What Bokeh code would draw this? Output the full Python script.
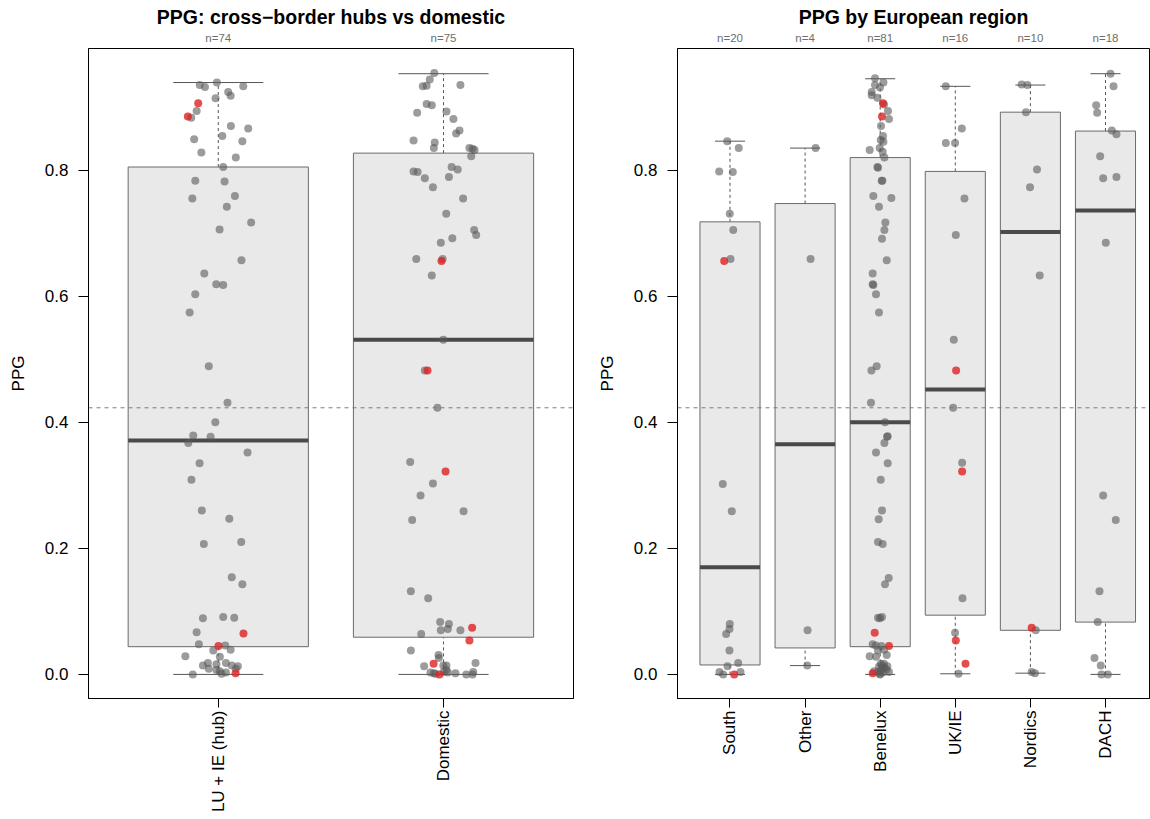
import math
from bokeh.plotting import figure
from bokeh.models import Range1d, FixedTicker, LinearAxis, Span, PrintfTickFormatter
from bokeh.layouts import row
from bokeh.embed import file_html
from bokeh.resources import INLINE

FONT = "Liberation Sans"

# ---------------- data: left panel ----------------
left_title = "PPG: cross\u2212border hubs vs domestic"
left_cats = ["LU + IE (hub)", "Domestic"]
left_n = [74, 75]
left_lower = [0.000, 0.000]
left_q1 = [0.044, 0.059]
left_median = [0.371, 0.531]
left_q3 = [0.805, 0.827]
left_upper = [0.939, 0.953]

hub_ppg = [0.935, 0.932, 0.939, 0.933, 0.924, 0.918, 0.914, 0.906, 0.894, 0.885,
           0.883, 0.870, 0.866, 0.854, 0.849, 0.846, 0.828, 0.820, 0.805, 0.783,
           0.782, 0.755, 0.759, 0.742, 0.717, 0.706, 0.657, 0.636, 0.619, 0.618,
           0.603, 0.574, 0.489, 0.431, 0.400, 0.379, 0.377, 0.367, 0.352, 0.335,
           0.309, 0.260, 0.247, 0.207, 0.210, 0.154, 0.143, 0.089, 0.091, 0.090,
           0.067, 0.065, 0.048, 0.045, 0.046, 0.038, 0.039, 0.029, 0.028, 0.014,
           0.018, 0.016, 0.018, 0.014, 0.013, 0.009, 0.005, 0.003, 0.002, 0.000,
           0.007, 0.009, 0.001]
hub_jitter = [-0.082, -0.059, -0.006, 0.111, 0.044, 0.055, -0.012, -0.089, -0.096, -0.135,
              -0.120, 0.056, 0.133, 0.018, -0.107, 0.107, -0.075, 0.078, 0.022, -0.102,
              0.028, -0.115, 0.074, 0.038, 0.146, 0.006, 0.103, -0.062, -0.009, 0.022,
              -0.102, -0.127, -0.042, 0.041, -0.013, -0.111, -0.034, -0.133, 0.130, -0.083,
              -0.119, -0.073, 0.049, -0.064, 0.102, 0.060, 0.107, -0.068, 0.022, 0.071,
              -0.096, 0.112, -0.086, 0.001, 0.031, -0.022, 0.055, -0.146, 0.007, -0.068,
              -0.046, -0.008, 0.034, 0.060, 0.087, -0.042, 0.007, 0.034, 0.077, -0.113,
              -0.008, 0.078, 0.015]
hub_red = [7, 9, 51, 53, 68]

dom_ppg = [0.954, 0.944, 0.933, 0.934, 0.935, 0.905, 0.903, 0.891, 0.893, 0.881,
           0.863, 0.858, 0.847, 0.844, 0.835, 0.835, 0.834, 0.832, 0.822, 0.798,
           0.797, 0.805, 0.801, 0.787, 0.789, 0.773, 0.755, 0.731, 0.705, 0.697,
           0.692, 0.685, 0.659, 0.656, 0.659, 0.633, 0.531, 0.482, 0.482, 0.423,
           0.337, 0.322, 0.303, 0.284, 0.259, 0.245, 0.132, 0.121, 0.083, 0.080,
           0.070, 0.072, 0.070, 0.074, 0.064, 0.054, 0.038, 0.031, 0.026, 0.017,
           0.013, 0.014, 0.014, 0.018, 0.002, 0.000, 0.003, 0.000, 0.004, 0.000,
           0.001, 0.004, 0.007, 0.002, 0.003]
dom_jitter = [-0.041, -0.061, -0.092, -0.075, 0.075, -0.075, -0.052, -0.117, 0.013, 0.044,
              0.071, 0.056, -0.133, -0.039, -0.043, 0.115, 0.129, 0.138, 0.123, -0.133,
              -0.115, 0.036, 0.063, -0.083, 0.024, -0.047, 0.087, 0.012, 0.136, 0.145,
              0.039, -0.012, -0.121, -0.009, -0.004, -0.052, -0.001, -0.071, -0.083, -0.027,
              -0.148, 0.009, -0.047, -0.102, 0.089, -0.139, -0.145, -0.068, -0.015, 0.024,
              -0.012, 0.019, 0.075, 0.127, -0.099, 0.115, -0.145, -0.022, -0.021, -0.044,
              -0.086, -0.001, 0.013, 0.142, -0.043, -0.018, 0.019, 0.101, 0.132, 0.129,
              -0.036, 0.001, 0.013, 0.053, -0.058]
dom_red = [33, 37, 41, 53, 55, 59, 65]

# ---------------- data: right panel ----------------
right_title = "PPG by European region"
right_cats = ["South", "Other", "Benelux", "UK/IE", "Nordics", "DACH"]
right_n = [20, 4, 81, 16, 10, 18]
right_lower = [0.000, 0.014, 0.000, 0.001, 0.002, 0.000]
right_q1 = [0.015, 0.042, 0.044, 0.094, 0.070, 0.083]
right_median = [0.170, 0.365, 0.400, 0.452, 0.702, 0.736]
right_q3 = [0.718, 0.747, 0.820, 0.798, 0.892, 0.862]
right_upper = [0.846, 0.835, 0.945, 0.933, 0.935, 0.953]

south_ppg = [0.846, 0.835, 0.798, 0.797, 0.731, 0.705, 0.659, 0.656, 0.302, 0.259,
             0.080, 0.072, 0.064, 0.038, 0.018, 0.013, 0.004, 0.000, 0.004, 0.000]
south_jitter = [-0.037, 0.117, -0.144, 0.037, -0.003, 0.043, 0.007, -0.077, -0.096, 0.024,
                -0.003, -0.007, -0.051, -0.007, 0.109, -0.033, -0.140, -0.091, 0.140, 0.056]
south_red = [7, 19]

other_ppg = [0.835, 0.659, 0.070, 0.014]
other_jitter = [0.140, 0.073, 0.033, 0.029]
other_red = []

benelux_ppg = [0.946, 0.939, 0.935, 0.931, 0.924, 0.919, 0.915, 0.906, 0.904, 0.894,
               0.885, 0.881, 0.870, 0.854, 0.848, 0.845, 0.835, 0.832, 0.829, 0.820,
               0.805, 0.804, 0.783, 0.783, 0.759, 0.756, 0.742, 0.717, 0.705, 0.691,
               0.657, 0.636, 0.619, 0.618, 0.603, 0.574, 0.489, 0.482, 0.431, 0.400,
               0.378, 0.377, 0.367, 0.352, 0.335, 0.309, 0.260, 0.246, 0.210, 0.207,
               0.153, 0.143, 0.090, 0.089, 0.091, 0.066, 0.048, 0.045, 0.046, 0.045,
               0.038, 0.039, 0.029, 0.028, 0.031, 0.017, 0.014, 0.012, 0.010, 0.008,
               0.006, 0.004, 0.002, 0.001, 0.003, 0.004, 0.000, 0.017, 0.010, 0.005,
               0.013]
benelux_jitter = [-0.069, 0.043, -0.069, -0.003, -0.113, -0.113, -0.037, 0.037, 0.051, 0.104,
                  0.024, 0.117, 0.011, 0.037, 0.007, 0.043, -0.007, -0.140, 0.033, 0.056,
                  -0.037, -0.029, 0.020, 0.029, -0.091, 0.149, -0.016, 0.069, 0.056, 0.024,
                  0.087, -0.100, -0.100, -0.091, -0.056, -0.016, -0.047, -0.117, -0.123, 0.064,
                  0.100, 0.091, 0.056, -0.056, 0.100, 0.007, 0.024, -0.020, -0.029, 0.033,
                  0.113, 0.064, -0.029, -0.003, 0.024, -0.073, -0.100, 0.117, -0.060, 0.016,
                  -0.029, 0.051, -0.140, -0.056, 0.087, 0.007, 0.029, -0.016, 0.056, 0.083,
                  0.007, 0.117, -0.100, -0.003, 0.037, -0.029, -0.003, 0.051, 0.029, -0.080,
                  0.095]
benelux_red = [7, 10, 55, 57, 72]

ukie_ppg = [0.933, 0.866, 0.843, 0.843, 0.755, 0.697, 0.531, 0.482, 0.423, 0.336,
            0.322, 0.121, 0.066, 0.054, 0.017, 0.001]
ukie_jitter = [-0.126, 0.087, -0.126, -0.003, 0.122, 0.007, -0.020, 0.011, -0.029, 0.091,
               0.091, 0.096, -0.003, 0.007, 0.136, 0.043]
ukie_red = [7, 10, 13, 14]

nordics_ppg = [0.936, 0.935, 0.892, 0.801, 0.773, 0.633, 0.074, 0.070, 0.004, 0.002]
nordics_jitter = [-0.116, -0.040, -0.059, 0.088, -0.005, 0.124, 0.017, 0.071, 0.017, 0.061]
nordics_red = [6]

dach_ppg = [0.953, 0.933, 0.903, 0.891, 0.863, 0.857, 0.822, 0.787, 0.789, 0.685,
            0.284, 0.245, 0.132, 0.083, 0.026, 0.014, 0.000, 0.000]
dach_jitter = [0.067, 0.107, -0.124, -0.111, 0.084, 0.146, -0.071, -0.031, 0.146, 0.004,
               -0.031, 0.137, -0.080, -0.103, -0.146, -0.063, -0.053, 0.031]
dach_red = []

overall_ppg_ref = 0.423
y_ticks = [0.0, 0.2, 0.4, 0.6, 0.8]

# ---------------- styling ----------------
BOX_FILL = "#e9e9e9"
BOX_LINE = "#6a6a6a"
WHISKER = "#555555"
MEDIAN = "#4a4a4a"
PT_GREY = "#5a5a5a"
PT_RED = "#dd2222"
REF_LINE = "#667f9e"


def make_panel(width, border_left, border_right, x_start, x_end, title, title_offset,
               cats, counts, lower, q1, med, q3, upper, groups):
    p = figure(width=width, height=819,
               x_range=Range1d(x_start, x_end), y_range=Range1d(-0.0382, 0.993),
               output_backend="svg", toolbar_location=None,
               min_border_left=border_left, min_border_right=border_right,
               min_border_top=48, min_border_bottom=121)
    p.xgrid.visible = False
    p.ygrid.visible = False
    p.background_fill_color = "white"
    p.border_fill_color = "white"
    p.outline_line_color = "black"
    p.outline_line_width = 1
    p.outline_line_alpha = 1

    p.title.text = title
    p.title.align = "center"
    p.title.text_font = FONT
    p.title.text_font_size = "19.5px"
    p.title.text_font_style = "bold"
    p.title.text_color = "black"
    p.title.standoff = 1
    p.title.offset = title_offset

    pos = list(range(1, len(cats) + 1))

    # y axis
    ya = p.yaxis[0]
    ya.ticker = FixedTicker(ticks=y_ticks)
    ya.formatter = PrintfTickFormatter(format="%.1f")
    ya.axis_label = "PPG"
    ya.axis_label_text_font = FONT
    ya.axis_label_text_font_size = "17px"
    ya.axis_label_text_font_style = "normal"
    ya.axis_label_text_color = "black"
    ya.axis_label_standoff = 14
    ya.major_label_text_font = FONT
    ya.major_label_text_font_size = "17px"
    ya.major_label_text_color = "black"
    ya.major_label_standoff = 10
    ya.major_tick_out = 10
    ya.major_tick_in = 0
    ya.minor_tick_line_color = None
    ya.axis_line_color = "black"
    ya.major_tick_line_color = "black"

    # x axis
    xa = p.xaxis[0]
    xa.ticker = FixedTicker(ticks=pos)
    xa.major_label_overrides = {i: c for i, c in zip(pos, cats)}
    xa.major_label_orientation = math.pi / 2
    xa.major_label_text_font = FONT
    xa.major_label_text_font_size = "17px"
    xa.major_label_text_color = "black"
    xa.major_label_standoff = 3
    xa.major_tick_out = 9
    xa.major_tick_in = 0
    xa.minor_tick_line_color = None
    xa.axis_line_color = "black"
    xa.major_tick_line_color = "black"

    # n= labels above
    na = LinearAxis(ticker=FixedTicker(ticks=pos),
                    major_label_overrides={i: "n=%d" % n for i, n in zip(pos, counts)},
                    axis_line_color=None, major_tick_line_color=None,
                    minor_tick_line_color=None,
                    major_label_text_font=FONT, major_label_text_font_size="11.5px",
                    major_label_text_color="#6e6e6e", major_label_standoff=5,
                    major_tick_out=0, major_tick_in=0)
    p.add_layout(na, "above")

    lefts = [x - 0.4 for x in pos]
    rights = [x + 0.4 for x in pos]
    # whiskers
    p.segment(x0=pos, y0=q3, x1=pos, y1=upper, line_color=WHISKER, line_width=1,
              line_dash="3 3")
    p.segment(x0=pos, y0=lower, x1=pos, y1=q1, line_color=WHISKER, line_width=1,
              line_dash="3 3")
    p.segment(x0=[x - 0.2 for x in pos], y0=upper, x1=[x + 0.2 for x in pos], y1=upper,
              line_color=WHISKER, line_width=1)
    p.segment(x0=[x - 0.2 for x in pos], y0=lower, x1=[x + 0.2 for x in pos], y1=lower,
              line_color=WHISKER, line_width=1)
    # boxes
    p.quad(left=lefts, right=rights, bottom=q1, top=q3, fill_color=BOX_FILL,
           line_color=BOX_LINE, line_width=1)
    p.segment(x0=lefts, y0=med, x1=rights, y1=med, line_color=MEDIAN, line_width=4,
              line_cap="butt")

    # points
    gx, gy, rx, ry = [], [], [], []
    for x0, (vals, jit, red) in zip(pos, groups):
        for k, (v, j) in enumerate(zip(vals, jit)):
            if k in red:
                rx.append(x0 + j)
                ry.append(v)
            else:
                gx.append(x0 + j)
                gy.append(v)
    p.scatter(gx, gy, size=8, fill_color=PT_GREY, fill_alpha=0.6, line_color=None)
    p.scatter(rx, ry, size=8, fill_color=PT_RED, fill_alpha=0.8, line_color=None)

    p.add_layout(Span(location=overall_ppg_ref, dimension="width", line_color=REF_LINE,
                      line_width=1, line_dash="4 4", line_alpha=1.0))
    return p


p1 = make_panel(590, 88, 17, 0.424, 2.577, left_title, 0,
                left_cats, left_n, left_lower, left_q1, left_median, left_q3, left_upper,
                [(hub_ppg, hub_jitter, hub_red), (dom_ppg, dom_jitter, dom_red)])

p2 = make_panel(560, 87, 1, 0.301, 6.586, right_title, 4,
                right_cats, right_n, right_lower, right_q1, right_median, right_q3,
                right_upper,
                [(south_ppg, south_jitter, south_red),
                 (other_ppg, other_jitter, other_red),
                 (benelux_ppg, benelux_jitter, benelux_red),
                 (ukie_ppg, ukie_jitter, ukie_red),
                 (nordics_ppg, nordics_jitter, nordics_red),
                 (dach_ppg, dach_jitter, dach_red)])

layout = row(p1, p2)
open("out.html", "w").write(file_html(layout, INLINE))
